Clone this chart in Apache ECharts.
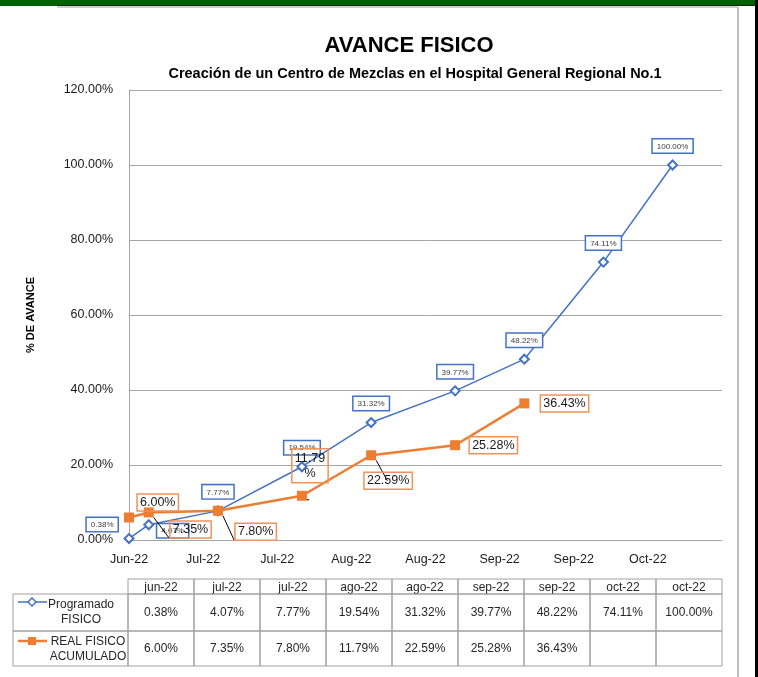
<!DOCTYPE html>
<html>
<head>
<meta charset="utf-8">
<title>AVANCE FISICO</title>
<script src="https://cdn.jsdelivr.net/npm/echarts@6/dist/echarts.min.js"></script>
<style>
  html, body { margin: 0; padding: 0; background: #fff; }
  #app { width: 758px; height: 677px; }
</style>
</head>
<body>
<div id="app"></div>
<script>
// fechas de cada corte (eje de fechas en el original)
var startDate = '2022-06-27';
var pointDates = ['2022-06-27', '2022-07-01', '2022-07-15', '2022-08-01', '2022-08-15', '2022-09-01', '2022-09-15', '2022-10-01', '2022-10-15'];
var tableHeaders = ['jun-22', 'jul-22', 'jul-22', 'ago-22', 'ago-22', 'sep-22', 'sep-22', 'oct-22', 'oct-22'];
var xTickLabels = ['Jun-22', 'Jul-22', 'Jul-22', 'Aug-22', 'Aug-22', 'Sep-22', 'Sep-22', 'Oct-22'];
var programado = [0.38, 4.07, 7.77, 19.54, 31.32, 39.77, 48.22, 74.11, 100.00];
var realFisico = [6.00, 7.35, 7.80, 11.79, 22.59, 25.28, 36.43];

var DAY = 86400000;
var BLUE = '#4472C4';
var ORANGE = '#ED7D31';
var FONT = '"Liberation Sans", Arial, sans-serif';

function dayOf(d) {
    return (Date.parse(d) - Date.parse(startDate)) / DAY;
}
function pct(v) {
    return v.toFixed(2) + '%';
}

// etiquetas azules: pequeñas, con recuadro
var blueLabel = {
    show: true,
    position: 'top',
    distance: 7,
    formatter: function (p) { return pct(p.value[1]); },
    fontFamily: FONT,
    fontSize: 8,
    color: '#404040',
    backgroundColor: '#fff',
    borderColor: BLUE,
    borderWidth: 1.5,
    padding: [3, 4, 2, 4]
};
var blueLabelOverrides = {
    0: { position: 'left', distance: 6, offset: [0, -14] },
    1: { position: 'right', distance: 3, offset: [0, 6] }
};

// etiquetas naranjas: sin relleno, se ve lo que queda detras
var orangeLabel = {
    show: true,
    position: 'right',
    distance: 10,
    formatter: function (p) { return pct(p.value[1]); },
    fontFamily: FONT,
    fontSize: 12.5,
    color: '#1a1a1a',
    borderColor: '#F0935A',
    borderWidth: 1.5,
    padding: [2, 3, 2, 3]
};
var orangeLabelOverrides = {
    0: { position: 'right', distance: 3, offset: [0, -15] },
    1: { position: 'right', distance: 16, offset: [0, 17] },
    2: { position: 'right', distance: 12, offset: [0, 21] },
    3: { position: 'top', distance: 8, offset: [8, 0], formatter: '11.79\n%', lineHeight: 15 },
    4: { position: 'bottom', distance: 12, offset: [17, 0] },
    5: { position: 'right', distance: 9 },
    6: { position: 'right', distance: 11 }
};
var orangeLeader = { 1: true, 2: true, 3: true, 4: true };

function buildSeriesData(values, overrides, leaders) {
    var out = [];
    values.forEach(function (v, i) {
        var item = { value: [dayOf(pointDates[i]), v] };
        if (overrides[i])
            item.label = overrides[i];
        if (leaders && leaders[i])
            item.labelLine = { show: true, lineStyle: { color: '#000', width: 1 } };
        out.push(item);
    });
    return out;
}

// tabla de datos bajo la gráfica (como en Excel)
function buildTable() {
    var els = [];
    var x0 = 13, xL = 128, colW = 66;
    var yH = 579, yR1 = 594, yR2 = 631, yEnd = 666;
    var stroke = '#A0A0A0';
    var txt = { fontFamily: FONT, fontSize: 12, fill: '#262626', align: 'center', verticalAlign: 'middle' };
    function cell(x, y, w, h) {
        els.push({ type: 'rect', shape: { x: x, y: y, width: w, height: h }, style: { fill: null, stroke: stroke, lineWidth: 1 } });
    }
    function text(x, y, s, extra) {
        els.push({ type: 'text', x: x, y: y, style: Object.assign({}, txt, { text: s }, extra || {}) });
    }
    tableHeaders.forEach(function (h, i) {
        var x = xL + i * colW;
        cell(x, yH, colW, yR1 - yH);
        text(x + colW / 2, (yH + yR1) / 2 + 1, h);
        cell(x, yR1, colW, yR2 - yR1);
        text(x + colW / 2, (yR1 + yR2) / 2, pct(programado[i]));
        cell(x, yR2, colW, yEnd - yR2);
        if (realFisico[i] !== undefined)
            text(x + colW / 2, (yR2 + yEnd) / 2, pct(realFisico[i]));
    });
    cell(x0, yR1, xL - x0, yR2 - yR1);
    cell(x0, yR2, xL - x0, yEnd - yR2);
    // leyenda programado
    els.push({ type: 'line', shape: { x1: 18, y1: 602, x2: 47, y2: 602 }, style: { stroke: BLUE, lineWidth: 1.5 } });
    els.push({ type: 'polygon', shape: { points: [[32, 598], [36, 602], [32, 606], [28, 602]] }, style: { fill: '#fff', stroke: BLUE, lineWidth: 1.5 } });
    text(81, 612, 'Programado\nFISICO', { lineHeight: 15 });
    // leyenda real
    els.push({ type: 'line', shape: { x1: 18, y1: 641, x2: 47, y2: 641 }, style: { stroke: ORANGE, lineWidth: 2.5 } });
    els.push({ type: 'rect', shape: { x: 28, y: 637, width: 8, height: 8 }, style: { fill: ORANGE } });
    text(88, 649, 'REAL FISICO\nACUMULADO', { lineHeight: 15 });
    return els;
}

function buildFrame() {
    return [
        { type: 'rect', shape: { x: 0, y: 0, width: 758, height: 6 }, style: { fill: '#006100' } },
        { type: 'line', shape: { x1: 57, y1: 5.5, x2: 755, y2: 5.5 }, style: { stroke: '#1f1f1f', lineWidth: 1 } },
        { type: 'line', shape: { x1: 57, y1: 7, x2: 738, y2: 7 }, style: { stroke: '#BFBFBF', lineWidth: 1.5 } },
        { type: 'line', shape: { x1: 738, y1: 7, x2: 738, y2: 677 }, style: { stroke: '#BFBFBF', lineWidth: 2 } },
        { type: 'rect', shape: { x: 755, y: 0, width: 3, height: 677 }, style: { fill: '#000' } }
    ];
}

var chart = echarts.init(document.getElementById('app'), null, { renderer: 'canvas' });
var option = {
    backgroundColor: '#fff',
    animation: false,
    title: [
        {
            text: 'AVANCE FISICO',
            left: 404, top: 30, textAlign: 'center',
            textStyle: { fontFamily: FONT, fontSize: 22, fontWeight: 'bold', color: '#000' }
        },
        {
            text: 'Creación de un Centro de Mezclas en el Hospital General Regional No.1',
            left: 410, top: 61, textAlign: 'center',
            textStyle: { fontFamily: FONT, fontSize: 14.5, fontWeight: 'bold', color: '#000' }
        }
    ],
    grid: { left: 129, right: 36, top: 90, bottom: 137, containLabel: false },
    xAxis: {
        type: 'value',
        min: 0,
        max: 120,
        interval: 15,
        axisLine: { show: true, lineStyle: { color: '#A6A6A6' } },
        axisTick: { show: false },
        splitLine: { show: false },
        axisLabel: {
            margin: 13,
            fontFamily: FONT,
            fontSize: 12.5,
            color: '#1a1a1a',
            showMaxLabel: true,
            formatter: function (v) {
                return xTickLabels[Math.round(v / 15)] || '';
            }
        }
    },
    yAxis: {
        type: 'value',
        min: 0,
        max: 120,
        interval: 20,
        name: '% DE AVANCE',
        nameLocation: 'middle',
        nameRotate: 90,
        nameGap: 93,
        nameTextStyle: { fontFamily: FONT, fontSize: 11, fontWeight: 'bold', color: '#000' },
        axisLine: { show: true, lineStyle: { color: '#A6A6A6' } },
        axisTick: { show: false },
        splitLine: { show: true, lineStyle: { color: '#A6A6A6', width: 1 } },
        axisLabel: {
            margin: 16,
            fontFamily: FONT,
            fontSize: 12.5,
            color: '#1a1a1a',
            formatter: function (v) { return pct(v); }
        }
    },
    series: [
        {
            name: 'Programado FISICO',
            type: 'line',
            data: buildSeriesData(programado, blueLabelOverrides),
            symbol: 'emptyDiamond',
            symbolSize: 9,
            lineStyle: { color: BLUE, width: 1.5 },
            itemStyle: { color: BLUE, borderWidth: 1.5 },
            label: blueLabel,
            clip: false,
            z: 2
        },
        {
            name: 'REAL FISICO ACUMULADO',
            type: 'line',
            data: buildSeriesData(realFisico, orangeLabelOverrides, orangeLeader),
            symbol: 'rect',
            symbolSize: 10,
            lineStyle: { color: ORANGE, width: 2.5 },
            itemStyle: { color: ORANGE },
            label: orangeLabel,
            labelLine: { show: false, lineStyle: { color: '#000', width: 1 } },
            clip: false,
            z: 3
        }
    ],
    graphic: buildFrame().concat(buildTable())
};
chart.setOption(option);
</script>
</body>
</html>
